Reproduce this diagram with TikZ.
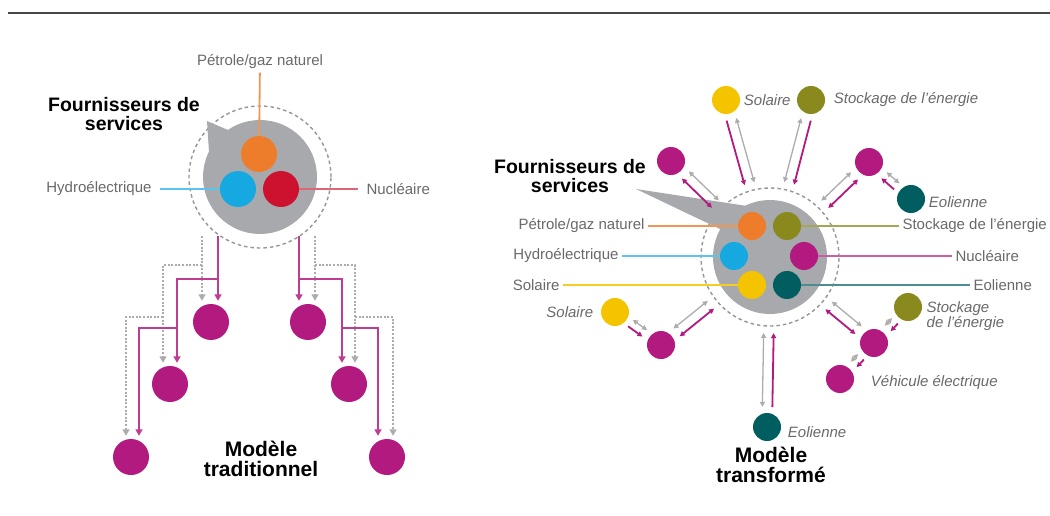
\documentclass[tikz,border=0pt]{standalone}
\usepackage{fontspec}
\setmainfont{Liberation Sans}
\usetikzlibrary{arrows.meta,positioning,calc}
\definecolor{rulegray}{RGB}{70,70,70}
\definecolor{hubgray}{RGB}{167,169,172}
\definecolor{ringgray}{RGB}{150,150,150}
\definecolor{labelgray}{RGB}{105,105,105}
\definecolor{flowgray}{RGB}{172,172,172}
\definecolor{petrole}{RGB}{238,125,43}
\definecolor{hydro}{RGB}{22,169,225}
\definecolor{nuclear}{RGB}{205,18,48}
\definecolor{clientpink}{RGB}{178,26,128}
\definecolor{solaire}{RGB}{245,196,0}
\definecolor{stockage}{RGB}{137,137,30}
\definecolor{eolien}{RGB}{0,94,96}

\begin{document}
\begin{tikzpicture}[
    x=1pt, y=-1pt,
    >={Triangle[length=5pt,width=5pt]},
    every node/.style={font=\fontsize{15}{16}\selectfont, text=labelgray},
    title/.style={font=\fontsize{19.5}{19.5}\selectfont\bfseries, text=black, align=center},
    model/.style={font=\fontsize{21}{20.5}\selectfont\bfseries, text=black, align=center},
    tag/.style={font=\fontsize{15}{14}\selectfont\itshape, inner sep=1.5pt},
    hub/.style={circle, fill=hubgray, minimum size=114pt, inner sep=0pt},
    ring/.style={circle, draw=ringgray, line width=1.4pt, dash pattern=on 3.5pt off 3pt, minimum size=#1, inner sep=0pt},
    src/.style={circle, fill=#1, minimum size=28pt, inner sep=0pt},
    bigsrc/.style={circle, fill=#1, minimum size=36pt, inner sep=0pt},
    feed/.style={line width=1.8pt, draw=#1},
    treepw/.style={line width=1.8pt, draw=clientpink!85, shorten >=3pt, -{Triangle[length=6.5pt,width=7pt]}},
    treeinfo/.style={line width=1.5pt, draw=flowgray, dash pattern=on 2pt off 1.6pt, shorten >=3pt, -{Triangle[length=6.5pt,width=7pt]}},
    pw/.style={line width=1.8pt, draw=clientpink},
    gw/.style={line width=1.3pt, draw=flowgray},
    hubend/.style={shorten <=20pt, shorten >=76pt},
    pairend/.style={shorten <=19pt, shorten >=20pt},
]

\useasboundingbox (0,0) rectangle (1050,516);
\clip (0,0) rectangle (1050,516);

% Top rule
\draw[line width=2pt, rulegray] (8,13) -- (1050,13);

% ---- Traditional model (left) ----
\node[ring=142pt] (ringL) at (260,177) {};
\fill[hubgray] (207,121) -- (235,133) -- (209,152) -- cycle;
\node[hub] (hubL) at (260,177) {};
\node[bigsrc=petrole] (oilL) at (259,154) {};
\node[bigsrc=hydro] (hydroL) at (238,189) {};
\node[bigsrc=nuclear] (nucL) at (281,189) {};

\node (oilLLbl) at (260,62) {Pétrole/gaz naturel};
\node[anchor=east] (hydroLLbl) at (155,189) {Hydroélectrique};
\node[anchor=west] (nucLLbl) at (363,189) {Nucléaire};
\draw[feed=petrole!80] (oilL) -- (oilLLbl);
\draw[feed=hydro!70, shorten <=5pt] (hydroLLbl) -- (hydroL);
\draw[feed=nuclear!65, shorten >=5pt] (nucL) -- (nucLLbl);

\node[title] (provL) at (124,114) {Fournisseurs de\\services};

% Clients
\node[bigsrc=clientpink] (cL1) at (211,322) {};
\node[bigsrc=clientpink] (cL2) at (170,384) {};
\node[bigsrc=clientpink] (cL3) at (131,457) {};
\node[bigsrc=clientpink] (cR1) at (308,322) {};
\node[bigsrc=clientpink] (cR2) at (349,384) {};
\node[bigsrc=clientpink] (cR3) at (387,457) {};

% One-way flows down the tree
\coordinate (pwL) at (218,236);
\coordinate (forkL1) at (218,279);
\coordinate (forkL2) at (177,328);
\coordinate (infoL) at (202,236);
\coordinate (infoL1) at (202,265);
\coordinate (infoL2) at (163,317);
\draw[treeinfo] (infoL) -- (infoL |- cL1.north);
\draw[treeinfo] (infoL1) -| ([xshift=-7pt]cL2.north);
\draw[treeinfo] (infoL2) -| ([xshift=-5pt]cL3.north);
\draw[treepw] (pwL) -- (pwL |- cL1.north);
\draw[treepw] (forkL1) -| ([xshift=7pt]cL2.north);
\draw[treepw] (forkL2) -| ([xshift=8pt]cL3.north);

\coordinate (pwR) at (299,236);
\coordinate (forkR1) at (299,279);
\coordinate (forkR2) at (342,328);
\coordinate (infoR) at (315,236);
\coordinate (infoR1) at (315,265);
\coordinate (infoR2) at (355,317);
\draw[treeinfo] (infoR) -- (infoR |- cR1.north);
\draw[treeinfo] (infoR1) -| ([xshift=6pt]cR2.north);
\draw[treeinfo] (infoR2) -| ([xshift=6pt]cR3.north);
\draw[treepw] (pwR) -- (pwR |- cR1.north);
\draw[treepw] (forkR1) -| ([xshift=-7pt]cR2.north);
\draw[treepw] (forkR2) -| ([xshift=-9pt]cR3.north);

\node[model] (tradLbl) at (261,459) {Modèle\\traditionnel};

% ---- Transformed model (right) ----
\node[ring=138pt] (ringR) at (770,257) {};
\fill[hubgray] (636,189) -- (747,206) -- (722,230) -- cycle;
\node[hub] (hubR) at (770,257) {};
\node[src=petrole] (oilR) at (752,226) {};
\node[src=stockage] (storeR) at (787,226) {};
\node[src=hydro] (hydroR) at (734,256) {};
\node[src=clientpink] (nucR) at (804,256) {};
\node[src=solaire] (solarR) at (752,285) {};
\node[src=eolien] (windR) at (787,285) {};

\node[anchor=east] (oilRLbl) at (648,226) {Pétrole/gaz naturel};
\node[anchor=east] (hydroRLbl) at (622,256) {Hydroélectrique};
\node[anchor=east] (solarRLbl) at (563,285) {Solaire};
\node[anchor=west] (storeRLbl) at (899,226) {Stockage de l'énergie};
\node[anchor=west] (nucRLbl) at (952,256) {Nucléaire};
\node[anchor=west] (windRLbl) at (970,285) {Eolienne};
\draw[feed=petrole!80] (oilRLbl) -- (oilR);
\draw[feed=hydro!70] (hydroRLbl) -- (hydroR);
\draw[feed=solaire!85] (solarRLbl) -- (solarR);
\draw[feed=stockage!75] (storeR) -- (storeRLbl);
\draw[feed=clientpink!70] (nucR) -- (nucRLbl);
\draw[feed=eolien!70] (windR) -- (windRLbl);

\node[title] (provR) at (570,176) {Fournisseurs de\\services};

% Outer producers and clients
\node[src=solaire] (solarT) at (726,100) {};
\node[tag, right=2pt of solarT] (solarTLbl) {Solaire};
\node[src=stockage] (storeT) at (811,100) {};
\node[tag, right=7pt of storeT] (storeTLbl) {Stockage de l'énergie};
\node[src=clientpink] (homeNW) at (671,161) {};
\node[src=clientpink] (homeNE) at (869,162) {};
\node[src=eolien] (windNE) at (911,199) {};
\node[tag, right=2pt of windNE, yshift=-3pt] (windNELbl) {Eolienne};
\node[src=solaire] (solarSW) at (615,312) {};
\node[tag, left=6pt of solarSW] (solarSWLbl) {Solaire};
\node[src=clientpink] (homeSW) at (661,345) {};
\node[src=clientpink] (homeSE) at (874,343) {};
\node[src=stockage] (storeSE) at (908,307) {};
\node[tag, align=left, anchor=west] (storeSELbl) at (925,316) {Stockage\\de l'énergie};
\node[src=clientpink] (evSE) at (840,379) {};
\node[tag, right=15pt of evSE, yshift=-4pt] (evSELbl) {Véhicule électrique};
\node[src=eolien] (windS) at (767,427) {};
\node[tag, right=5pt of windS, yshift=-5pt] (windSLbl) {Eolienne};

% Two-way flows
\draw[pw, ->, hubend] ($(solarT)!5pt!-90:(hubR)$) -- ($(hubR)!5pt!90:(solarT)$);
\draw[gw, <->, hubend] ($(solarT)!5pt!90:(hubR)$) -- ($(hubR)!5pt!-90:(solarT)$);
\draw[gw, <->, hubend] ($(storeT)!5pt!-90:(hubR)$) -- ($(hubR)!5pt!90:(storeT)$);
\draw[pw, ->, hubend] ($(storeT)!5pt!90:(hubR)$) -- ($(hubR)!5pt!-90:(storeT)$);
\draw[gw, <->, hubend] ($(homeNW)!5pt!90:(hubR)$) -- ($(hubR)!5pt!-90:(homeNW)$);
\draw[pw, <->, hubend] ($(homeNW)!5pt!-90:(hubR)$) -- ($(hubR)!5pt!90:(homeNW)$);
\draw[pw, <->, hubend] ($(homeNE)!5pt!90:(hubR)$) -- ($(hubR)!5pt!-90:(homeNE)$);
\draw[gw, <->, hubend] ($(homeNE)!5pt!-90:(hubR)$) -- ($(hubR)!5pt!90:(homeNE)$);
\draw[pw, ->, pairend] ($(windNE)!4pt!90:(homeNE)$) -- ($(homeNE)!4pt!-90:(windNE)$);
\draw[gw, <->, pairend] ($(windNE)!4pt!-90:(homeNE)$) -- ($(homeNE)!4pt!90:(windNE)$);
\draw[gw, <->, pairend] ($(solarSW)!4pt!90:(homeSW)$) -- ($(homeSW)!4pt!-90:(solarSW)$);
\draw[pw, ->, pairend] ($(solarSW)!4pt!-90:(homeSW)$) -- ($(homeSW)!4pt!90:(solarSW)$);
\draw[gw, <->, hubend] ($(homeSW)!5pt!90:(hubR)$) -- ($(hubR)!5pt!-90:(homeSW)$);
\draw[pw, <->, hubend] ($(homeSW)!5pt!-90:(hubR)$) -- ($(hubR)!5pt!90:(homeSW)$);
\draw[pw, <->, hubend] ($(homeSE)!5pt!90:(hubR)$) -- ($(hubR)!5pt!-90:(homeSE)$);
\draw[gw, <->, hubend] ($(homeSE)!5pt!-90:(hubR)$) -- ($(hubR)!5pt!90:(homeSE)$);
\draw[pw, ->, pairend] ($(storeSE)!4pt!90:(homeSE)$) -- ($(homeSE)!4pt!-90:(storeSE)$);
\draw[gw, <->, pairend] ($(storeSE)!4pt!-90:(homeSE)$) -- ($(homeSE)!4pt!90:(storeSE)$);
\draw[pw, ->, pairend] ($(homeSE)!4pt!90:(evSE)$) -- ($(evSE)!4pt!-90:(homeSE)$);
\draw[gw, <->, pairend] ($(homeSE)!4pt!-90:(evSE)$) -- ($(evSE)!4pt!90:(homeSE)$);
\draw[gw, <->, hubend] ($(windS)!5pt!90:(hubR)$) -- ($(hubR)!5pt!-90:(windS)$);
\draw[pw, ->, hubend] ($(windS)!5pt!-90:(hubR)$) -- ($(hubR)!5pt!90:(windS)$);

\node[model] (newLbl) at (771,465) {Modèle\\transformé};

\end{tikzpicture}
\end{document}
